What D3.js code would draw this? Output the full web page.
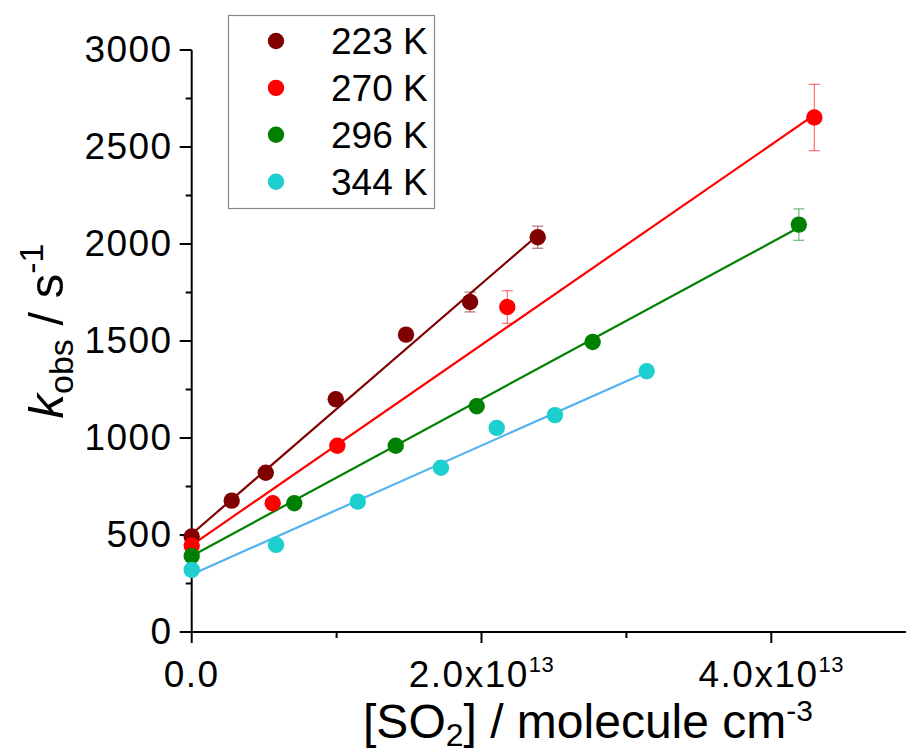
<!DOCTYPE html>
<html>
<head>
<meta charset="utf-8">
<script src="https://cdn.jsdelivr.net/npm/d3@7"></script>
<style>
  html, body { margin: 0; padding: 0; background: #fff; }
  svg { display: block; font-family: "Liberation Sans", Arial, Helvetica, sans-serif; }
</style>
</head>
<body>
<svg id="chart" width="908" height="755"></svg>
<script>
// ---------- data (x in molecule cm^-3, y = k_obs in s^-1) ----------
const seriesNames = ["223 K", "270 K", "296 K", "344 K"];
const pointColors = ["#800000", "#ff0000", "#008000", "#1ecfcf"];
const lineColors  = ["#800000", "#ff0000", "#008000", "#55b4f0"];

const x223 = [0, 0.276e13, 0.511e13, 0.994e13, 1.479e13, 1.921e13, 2.388e13];
const y223 = [492, 677, 821, 1200, 1533, 1701, 2035];
const e223 = [0, 0, 0, 0, 0, 51, 57];

const x270 = [0, 0.559e13, 1.005e13, 2.178e13, 4.297e13];
const y270 = [446, 664, 960, 1675, 2652];
const e270 = [0, 0, 0, 84, 171];

const x296 = [0, 0.708e13, 1.408e13, 1.967e13, 2.767e13, 4.19e13];
const y296 = [392, 664, 960, 1164, 1495, 2100];
const e296 = [0, 0, 0, 0, 0, 81];

const x344 = [0, 0.582e13, 1.146e13, 1.72e13, 2.105e13, 2.507e13, 3.14e13];
const y344 = [320, 449, 672, 847, 1052, 1118, 1344];
const e344 = [0, 0, 0, 0, 0, 0, 0];

// linear fits: intercept (s^-1), slope (s^-1 per 1e13 molecule cm^-3), fitted range end
const fitIntercept = [505, 448, 392, 297];
const fitSlope = [645, 516, 404, 332];
const fitEnd = [2.388e13, 4.297e13, 4.19e13, 3.14e13];

const xMajorTicks = [0, 2e13, 4e13];
const xMinorTicks = [1e13, 3e13];
const xTickMantissa = ["0.0", "2.0", "4.0"];
const yMajorTicks = [0, 500, 1000, 1500, 2000, 2500, 3000];
const yMinorTicks = [250, 750, 1250, 1750, 2250, 2750];

// ---------- build ----------
const seriesX = [x223, x270, x296, x344];
const seriesY = [y223, y270, y296, y344];
const seriesE = [e223, e270, e296, e344];
const series = seriesNames.map((name, i) => ({
  name, pc: pointColors[i], lc: lineColors[i],
  pts: seriesX[i].map((x, j) => ({ x, y: seriesY[i][j], e: seriesE[i][j] })),
  fit: [0, fitEnd[i]].map(x => ({ x, y: fitIntercept[i] + fitSlope[i] * x / 1e13 }))
}));

const svg = d3.select("#chart");
const x0 = 191.7, xRight = 906, yBottom = 632, yTop = 50;
const x = d3.scaleLinear().domain([0, 1e13]).range([x0, x0 + 144.9]);
const y = d3.scaleLinear().domain([0, 3000]).range([yBottom, yTop]);

// axes
const xAxisG = svg.append("g").attr("transform", `translate(0,${yBottom})`);
xAxisG.append("line").attr("x1", x0).attr("x2", xRight).attr("stroke", "#000").attr("stroke-width", 2);
xAxisG.selectAll(".xmaj").data(xMajorTicks).join("line")
  .attr("x1", d => x(d)).attr("x2", d => x(d)).attr("y1", 0).attr("y2", 11)
  .attr("stroke", "#000").attr("stroke-width", 2);
xAxisG.selectAll(".xmin").data(xMinorTicks).join("line")
  .attr("x1", d => x(d)).attr("x2", d => x(d)).attr("y1", 0).attr("y2", 6)
  .attr("stroke", "#000").attr("stroke-width", 2);
const xl = xAxisG.selectAll(".xlab").data(xMajorTicks).join("text")
  .attr("x", d => x(d)).attr("y", 55)
  .attr("text-anchor", "middle").attr("font-size", 37).attr("letter-spacing", "1.5px")
  .attr("fill", "#000");
xl.each(function(d, i) {
  const t = d3.select(this);
  if (d === 0) { t.text(xTickMantissa[i]); return; }
  t.append("tspan").text(xTickMantissa[i] + "x10");
  t.append("tspan").attr("font-size", 22).attr("dy", -15).attr("letter-spacing", "0.5px").text("13");
});

const yAxisG = svg.append("g").attr("transform", `translate(${x0},0)`);
yAxisG.append("line").attr("y1", y(0) + 1).attr("y2", y(3000)).attr("stroke", "#000").attr("stroke-width", 2);
yAxisG.selectAll(".ymaj").data(yMajorTicks).join("line")
  .attr("y1", d => y(d)).attr("y2", d => y(d)).attr("x1", 0).attr("x2", -12)
  .attr("stroke", "#000").attr("stroke-width", 2);
yAxisG.selectAll(".ymin").data(yMinorTicks).join("line")
  .attr("y1", d => y(d)).attr("y2", d => y(d)).attr("x1", 0).attr("x2", -6)
  .attr("stroke", "#000").attr("stroke-width", 2);
yAxisG.selectAll(".ylab").data(yMajorTicks).join("text")
  .attr("x", -19).attr("y", d => y(d)).attr("dy", "0.33em")
  .attr("text-anchor", "end").attr("font-size", 37).attr("letter-spacing", "1.5px")
  .attr("fill", "#000").text(d => d);

// axis titles
const xt = svg.append("text").attr("x", 588).attr("y", 738).attr("text-anchor", "middle")
  .attr("font-size", 48).attr("fill", "#000");
xt.append("tspan").text("[SO");
xt.append("tspan").attr("font-size", 32).attr("dy", 8).text("2");
xt.append("tspan").attr("dy", -8).text("] / molecule cm");
xt.append("tspan").attr("font-size", 30).attr("dy", -17).text("-3");

const yt = svg.append("text").attr("transform", "translate(63,331) rotate(-90)")
  .attr("text-anchor", "middle").attr("font-size", 49).attr("fill", "#000");
yt.append("tspan").attr("font-style", "italic").text("k");
yt.append("tspan").attr("font-size", 34).attr("dy", 10).text("obs");
yt.append("tspan").attr("dy", -10).text(" / s");
yt.append("tspan").attr("font-size", 34).attr("dy", -20).text("-1");

// fit lines
const line = d3.line().x(d => x(d.x)).y(d => y(d.y));
svg.append("g").selectAll("path").data(series).join("path")
  .attr("d", d => line(d.fit)).attr("fill", "none")
  .attr("stroke", d => d.lc).attr("stroke-width", 2.2);

// error bars + points
series.forEach(s => {
  const g = svg.append("g");
  const eb = s.pts.filter(p => p.e > 0);
  g.selectAll(".ev").data(eb).join("line")
    .attr("x1", p => x(p.x)).attr("x2", p => x(p.x))
    .attr("y1", p => y(p.y - p.e)).attr("y2", p => y(p.y + p.e))
    .attr("stroke", s.pc).attr("stroke-opacity", 0.55).attr("stroke-width", 1.2);
  [1, -1].forEach(sg => {
    g.selectAll(".ec" + sg).data(eb).join("line")
      .attr("x1", p => x(p.x) - 5.5).attr("x2", p => x(p.x) + 5.5)
      .attr("y1", p => y(p.y + sg * p.e)).attr("y2", p => y(p.y + sg * p.e))
      .attr("stroke", s.pc).attr("stroke-opacity", 0.55).attr("stroke-width", 1.2);
  });
  g.selectAll("circle").data(s.pts).join("circle")
    .attr("cx", p => x(p.x)).attr("cy", p => y(p.y)).attr("r", 8.2)
    .attr("fill", s.pc);
});

// legend
const lg = svg.append("g");
lg.append("rect").attr("x", 228.5).attr("y", 15.5).attr("width", 206).attr("height", 193)
  .attr("fill", "#fff").attr("stroke", "#888").attr("stroke-width", 1.2);
const li = lg.selectAll(".li").data(series).join("g")
  .attr("transform", (d, i) => `translate(0,${41 + i * 46.9})`);
li.append("circle").attr("cx", 276).attr("cy", 0).attr("r", 8.2).attr("fill", d => d.pc);
li.append("text").attr("x", 331).attr("y", 0).attr("dy", "0.36em")
  .attr("font-size", 37).attr("fill", "#000").text(d => d.name);
</script>
</body>
</html>
